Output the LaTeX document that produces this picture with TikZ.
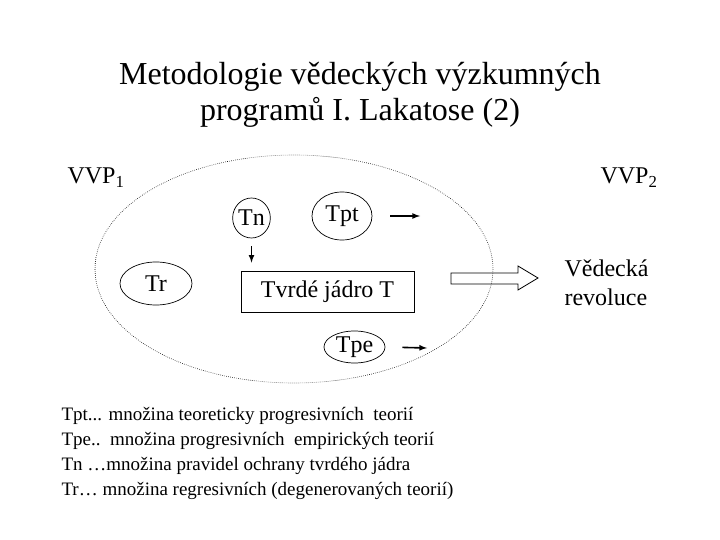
\documentclass[tikz,border=0pt]{standalone}
\usepackage{fontspec}
\setmainfont{Liberation Serif}
\usetikzlibrary{arrows}
\usetikzlibrary{shapes.geometric}

\begin{document}
\begin{tikzpicture}[x=1pt,y=-1pt,
  teorie/.style={draw,ellipse,line width=0.7pt,inner sep=0pt,font=\fontsize{24}{28}\selectfont},
  pfeil/.style={-latex,line width=1.6pt}]
\useasboundingbox (0,0) rectangle (720,540);
% nadpis
\node[align=center,font=\fontsize{32}{36}\selectfont] (nadpis) at (360,95)
  {Metodologie vědeckých výzkumných\\programů I. Lakatose (2)};
% program
\draw[dash pattern=on 0.6pt off 1.4pt,line width=0.6pt] (294,269) ellipse (199 and 114);
\node[font=\fontsize{24}{28}\selectfont,anchor=west] (vvp1) at (64,178) {VVP\textsubscript{1}};
\node[font=\fontsize{24}{28}\selectfont,anchor=west] (vvp2) at (597,178) {VVP\textsubscript{2}};
\node[teorie,minimum width=35,minimum height=40] (tn) at (251.5,218) {Tn};
\node[teorie,minimum width=60,minimum height=48] (tpt) at (342,216) {Tpt};
\node[teorie,minimum width=72,minimum height=43] (tr) at (156,283.5) {Tr};
\node[teorie,minimum width=61,minimum height=32] (tpe) at (354.5,347) {Tpe};
\node[draw,line width=0.8pt,minimum width=173,minimum height=41,font=\fontsize{24}{28}\selectfont] (jadro) at (327.5,291.5) {Tvrdé jádro T};
% sipky
\coordinate (tptend) at (420,216);
\coordinate (tpeend) at (427,348);
\draw[pfeil,shorten <=8pt,shorten >=8pt] (tn) -- (tn |- jadro.north);
\draw[pfeil,shorten <=18pt] (tpt.east) -- (tptend);
\draw[pfeil,shorten <=17pt] (tpe.east) -- (tpeend);
\draw[line width=0.8pt] (451,273) -- (518,273) -- (518,266) -- (538,278) -- (518,290)
  -- (518,284) -- (451,284) -- cycle;
\node[align=left,anchor=west,font=\fontsize{24}{29}\selectfont] (revoluce) at (561,283)
  {Vědecká\\revoluce};
% legenda
\node[align=left,anchor=west,font=\fontsize{19}{25}\selectfont] (legenda) at (58,453.5)
  {Tpt... množina teoreticky progresivních\ \ teorií\\
   Tpe..\ \ množina progresivních\ \ empirických teorií\\
   Tn …množina pravidel ochrany tvrdého jádra\\
   Tr… množina regresivních (degenerovaných teorií)};
\end{tikzpicture}
\end{document}
